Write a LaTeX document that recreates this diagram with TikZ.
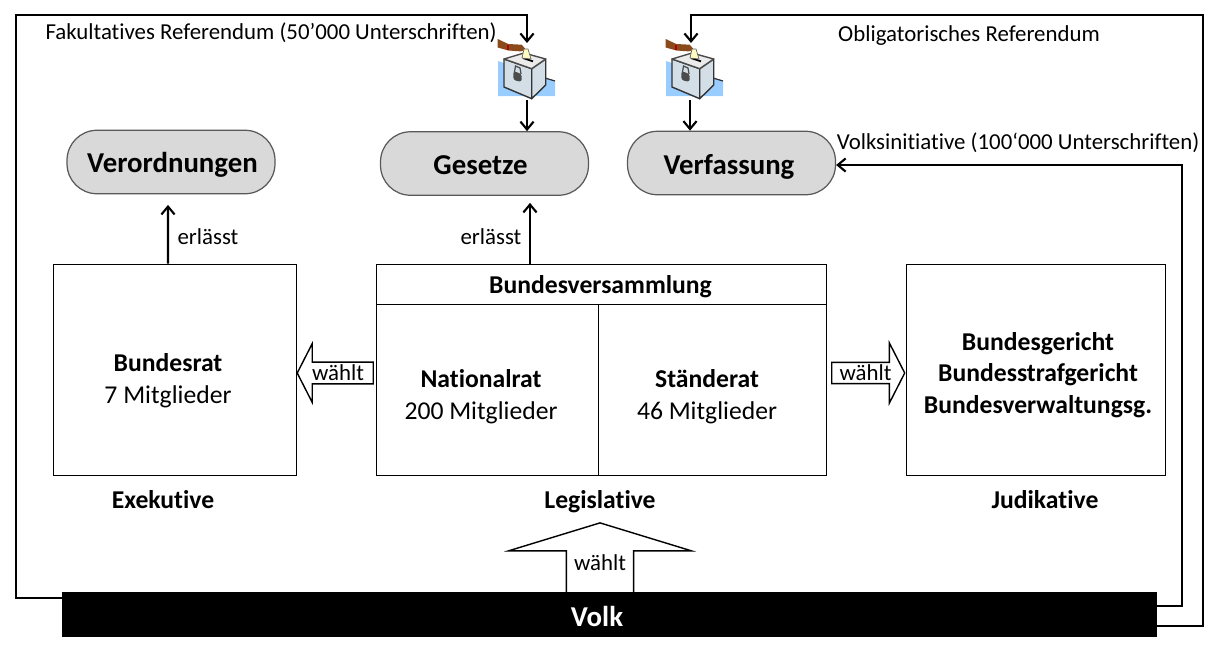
\documentclass[tikz,border=0pt]{standalone}
\usepackage{fontspec}
\setmainfont[Ligatures=NoCommon]{Carlito}
\usetikzlibrary{shapes.arrows}
\usetikzlibrary{positioning}
\usetikzlibrary{arrows.meta}

\definecolor{boxgray}{HTML}{D9D9D9}
\definecolor{urnblue}{HTML}{99CCFF}
\definecolor{urnface}{HTML}{D3DEE6}
\definecolor{handbrown}{HTML}{8B4A1C}

\newcommand\titlefont{\fontsize{16.4}{18}\selectfont\bfseries}
\newcommand\mainfont{\fontsize{14.6}{18}\selectfont}
\newcommand\notefont{\fontsize{13}{15}\selectfont}

\tikzset{
    conn/.style = {-{Straight Barb[length=4.5pt,width=7.5pt]}, line width = 1.2pt},
    outcome/.style = {draw = black!65, fill = boxgray, line width = 0.7pt, rounded corners = 0.6cm, minimum width = 4.16cm, minimum height = 1.27cm},
    organ/.style = {draw, line width = 0.5pt, inner sep = 0pt},
    blockarrow/.style = {draw, single arrow, line width = 0.8pt, outer sep = 0pt, inner sep = 0pt, font = \notefont},
    ballot/.pic = {
        \fill[urnblue] (0,-35) -- (57,-15) -- (57,0) -- (0,0) -- cycle;
        \draw[black!80, line width = 0.7pt] (47,-18) -- (57,-15);
        \draw[black!80, fill = urnface, line width = 0.8pt, line join = round] (6,-37) -- (33.7,-27.3) -- (33.7,2.7) -- (6,-9) -- cycle;
        \draw[black!80, fill = urnface, line width = 0.8pt, line join = round] (33.7,-27.3) -- (47.7,-37) -- (47.7,-11) -- (33.7,2.7) -- cycle;
        \draw[black!70, fill = black!8, line width = 0.8pt, line join = round] (6,-37) -- (26,-43) -- (47.7,-37) -- (33.7,-27.3) -- cycle;
        \draw[black, line width = 1pt] (25,-38) -- (35,-34.6);
        \draw[black!70, line width = 0.7pt] (16.5,-24) -- (17.5,-30) -- (22,-28) -- (23,-22);
        \fill[black!70, rounded corners = 1.5pt] (15.3,-25) -- (23.7,-22) -- (23.7,-14) -- (15.3,-16) -- cycle;
        \fill[handbrown] (-0.3,-57) -- (10.3,-52) -- (23.7,-51.3) -- (28,-46.3) -- (22.7,-44.6) -- (10.3,-45.5) -- (-0.3,-48.5) -- cycle;
        \fill[red!70!black] (9,-51.5) rectangle (11,-46);
        \draw[black!60, fill = yellow!25, line width = 0.4pt] (24,-38) -- (26,-47) -- (30,-47) -- (33,-37) -- cycle;
    },
}

\begin{document}
\begin{tikzpicture}[x = 0.02cm, y = -0.02cm]

    \useasboundingbox (0,0) rectangle (1219,650);

    % ballot boxes
    \pic at (498,96) {ballot};
    \pic at (666,96) {ballot};

    % results on top
    \node (verordnungen) at (171,162) [outcome] {};
    \node (gesetze) at (484.5,163.5) [outcome] {};
    \node (verfassung) at (731.5,163) [outcome] {};

    \node (verordnungenText) at (172.5,165) [font = \titlefont] {Verordnungen};
    \node (gesetzeText) at (480.5,165.5) [font = \titlefont] {Gesetze};
    \node (verfassungText) at (729,167) [font = \titlefont] {Verfassung};

    % the three powers
    \node (bundesrat) at (175,369.5) [organ, minimum width = 4.86cm, minimum height = 4.22cm] {};
    \node (versammlung) at (601,284) [organ, minimum width = 9cm, minimum height = 0.8cm] {};
    \node (nationalrat) at (487,389.5) [organ, minimum width = 4.44cm, minimum height = 3.42cm] {};
    \node (staenderat) at (712.5,389.5) [organ, minimum width = 4.56cm, minimum height = 3.42cm] {};
    \node (gerichte) at (1036,369.5) [organ, minimum width = 5.18cm, minimum height = 4.22cm] {};

    \node (versammlungText) at (600.5,287) [font = \mainfont\bfseries] {Bundesversammlung};
    \node (bundesratText) at (168,381) [align = center, font = \mainfont] {\textbf{Bundesrat}\\7 Mitglieder};
    \node (nationalratText) at (481,397) [align = center, font = \mainfont] {\textbf{Nationalrat}\\200 Mitglieder};
    \node (staenderatText) at (707,397) [align = center, font = \mainfont] {\textbf{Ständerat}\\46 Mitglieder};
    \node (gerichteText) at (1038,375) [align = center, font = \mainfont\bfseries] {Bundesgericht\\Bundesstrafgericht\\Bundesverwaltungsg.};

    \node (exekutive) at (163,500) [font = \mainfont\bfseries] {Exekutive};
    \node (legislative) at (600,502) [font = \mainfont\bfseries] {Legislative};
    \node (judikative) at (1045,500) [font = \mainfont\bfseries] {Judikative};

    % people
    \node (volk) at (609.5,614) [fill = black, minimum width = 21.9cm, minimum height = 0.9cm, inner sep = 0pt] {};
    \node (volkText) at (597,616) [text = white, font = \titlefont] {Volk};

    % block arrows
    \node (waehltL) at (338,373) [blockarrow, shape border rotate = 180, minimum height = 1.52cm, minimum width = 1.18cm, single arrow head extend = 0.3cm, single arrow tip angle = 126] {wählt};
    \node (waehltR) at (865.5,373) [blockarrow, minimum height = 1.46cm, minimum width = 1.2cm, single arrow head extend = 0.32cm, single arrow tip angle = 126] {wählt};
    \node (waehltU) at (600,563) [blockarrow, shape border rotate = 90, minimum height = 1.4cm, minimum width = 3.66cm, single arrow head extend = 0.92cm, single arrow tip angle = 146] {wählt};

    % connectors
    \coordinate (fakCorner) at (16,15);
    \coordinate (fakIn) at (527,43);
    \coordinate (fakOut) at (527,100);
    \coordinate (oblCorner) at (1203,15);
    \coordinate (oblIn) at (691,43);
    \coordinate (oblOut) at (690,100);
    \coordinate (iniCorner) at (1182,165);
    \coordinate (gesUp) at ([xshift = 0.91cm]gesetze.south);

    \draw[conn] ([yshift = 0.32cm]volk.west) -| (fakCorner) -| (fakIn);
    \draw[conn] ([yshift = -0.24cm]volk.east) -| (oblCorner) -| (oblIn);
    \draw[conn] ([yshift = 0.16cm]volk.east) -| (iniCorner) -- (verfassung.east |- iniCorner);

    \draw[conn] (fakOut) -- (fakOut |- gesetze.north);
    \draw[conn] (oblOut) -- (oblOut |- verfassung.north);

    \draw[conn, shorten > = 6pt] (verordnungen.south |- bundesrat.north) ++(-3,0) -- ([xshift = -0.06cm]verordnungen.south);
    \draw[conn, shorten > = 4pt] (gesUp |- versammlung.north) -- (gesUp);

    % labels
    \node (fakText) at (271,33) [font = \notefont] {Fakultatives Referendum (50’000 Unterschriften)};
    \node (oblText) at (969,35.5) [font = \notefont] {Obligatorisches Referendum};
    \node (iniText) at (1018,143) [font = \notefont] {Volksinitiative (100‘000 Unterschriften)};
    \node (erlaesstL) at (208,237) [font = \notefont] {erlässt};
    \node (erlaesstG) at (491,237) [font = \notefont] {erlässt};

\end{tikzpicture}
\end{document}
